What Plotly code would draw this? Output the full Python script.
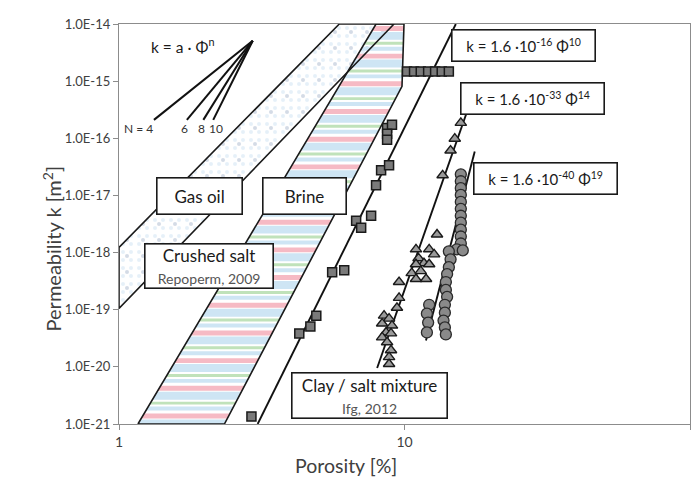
import math
import plotly.graph_objects as go

# ---------------- data ----------------
# Measured data, porosity [%] and permeability [m^2]
square_phi = [2.91, 4.28, 4.68, 4.91, 5.58, 6.15, 6.77, 7.05, 7.64, 7.95, 8.28, 8.83,
              8.69, 9.04, 8.69, 8.69, 10.2, 10.8, 11.4, 12.1, 12.8, 13.5, 14.3]
square_k = [1.35e-21, 3.85e-20, 5.08e-20, 7.87e-20, 4.54e-19, 4.92e-19, 3.61e-18, 2.73e-18,
            4.41e-18, 1.51e-17, 2.75e-17, 3.36e-17, 1.52e-16, 1.72e-16, 1.20e-16, 9.46e-17,
            1.48e-15, 1.48e-15, 1.48e-15, 1.48e-15, 1.48e-15, 1.48e-15, 1.48e-15]

triangle_phi = [15.75, 15.0, 14.5, 13.6, 13.0, 10.97, 12.2, 12.7, 11.2, 11.7, 10.97, 12.2,
                10.6, 11.4, 11.9, 10.97, 9.57, 9.57, 9.41, 8.48, 8.83, 8.35, 9.04, 8.62,
                8.35, 8.97, 8.69, 8.97, 8.83, 8.83]
triangle_k = [1.86e-16, 9.84e-17, 6.10e-17, 2.25e-17, 2.07e-18, 1.14e-18, 1.14e-18, 9.31e-19,
              7.94e-19, 6.50e-19, 6.25e-19, 6.25e-19, 4.37e-19, 4.73e-19, 3.44e-19, 3.44e-19,
              3.05e-19, 1.61e-19, 1.08e-19, 7.87e-20, 6.98e-20, 5.73e-20, 5.28e-20, 4.00e-20,
              3.28e-20, 3.85e-20, 2.69e-20, 1.95e-20, 1.48e-20, 1.12e-20]

circle_phi = [15.75] * 11 + [15.25, 16.0,
              14.3, 14.5, 14.3, 14.1, 13.96, 13.96, 14.1, 13.85, 13.85, 13.7, 13.85, 13.96,
              12.2, 11.98, 12.1, 11.98]
circle_k = [2.34e-17, 1.77e-17, 1.34e-17, 1.02e-17, 7.69e-18, 5.82e-18, 4.41e-18, 3.33e-18,
            2.52e-18, 1.91e-18, 1.44e-18, 1.14e-18, 1.09e-18,
            1.05e-18, 7.62e-19, 5.55e-19, 4.20e-19, 3.05e-19, 2.22e-19, 1.68e-19, 1.22e-19,
            8.87e-20, 6.46e-20, 4.89e-20, 3.69e-20,
            1.22e-19, 8.53e-20, 5.96e-20, 4.00e-20]

# Crushed salt ranges (Repoperm, 2009)
gasoil_phi = [1.0, 5.91, 9.19, 1.0]
gasoil_k = [1.23e-18, 1e-14, 1e-14, 1.05e-19]
brine_phi = [1.165, 7.95, 9.96, 9.80, 2.34]
brine_k = [1e-21, 1e-14, 1e-14, 8.1e-16, 1e-21]

# Fitted power laws (end points of drawn lines)
fit_exponents = [10, 14, 19]
fit_phi = [[3.06, 15.13], [8.02, 17.2], [11.89, 17.62]]
fit_k = [[1e-21, 1e-14], [9.55e-21, 5.03e-16], [2.88e-20, 5.89e-17]]
fit_labels = ["k = 1.6 ·10<sup>-16</sup> Φ<sup>10</sup>",
              "k = 1.6 ·10<sup>-33</sup> Φ<sup>14</sup>",
              "k = 1.6 ·10<sup>-40</sup> Φ<sup>19</sup>"]

# Slope legend: k = a·Φ^n
fan_exponents = [4, 6, 8, 10]
fan_labels = ["N = 4", "6", "8", "10"]
fan_apex_phi, fan_apex_k = 2.94, 5.08e-15
fan_end_k = 2.10e-16

# Axis ticks
x_tickvals = [1, 10, 100]
x_ticktext = ["1", "10", "100"]
y_tickvals = [1e-14, 1e-15, 1e-16, 1e-17, 1e-18, 1e-19, 1e-20, 1e-21]
y_ticktext = ["1.0E-14", "1.0E-15", "1.0E-16", "1.0E-17", "1.0E-18", "1.0E-19", "1.0E-20", "1.0E-21"]
x_title = "Porosity [%]"
y_title = "Permeability k [m<sup>2</sup>]"

# ---------------- styles ----------------
FONT = "Lato"
DEC_PX = 57.8          # pixels per decade on y axis (for stripe pattern)
STRIPE_PERIOD = 28     # px
STRIPES = [(0, 5, "rgb(246,186,196)"), (6, 8, "rgb(206,229,244)"),
           (16, 3, "rgb(192,226,186)"), (21, 4, "rgb(206,229,244)")]

L = math.log10


def clip_band(poly, ylo, yhi):
    def clip_half(pts, keep, yv):
        out = []
        for i in range(len(pts)):
            cur, prev = pts[i], pts[i - 1]
            def inter(p, q):
                t = (yv - p[1]) / (q[1] - p[1])
                return (p[0] + t * (q[0] - p[0]), yv)
            if keep(cur):
                if not keep(prev):
                    out.append(inter(prev, cur))
                out.append(cur)
            elif keep(prev):
                out.append(inter(prev, cur))
        return out
    pts = clip_half(poly, lambda p: p[1] >= ylo, ylo)
    if pts:
        pts = clip_half(pts, lambda p: p[1] <= yhi, yhi)
    return pts


fig = go.Figure()

# Gas oil band (dotted)
for size, col, sol in [(8, "rgb(205,225,242)", 0.2), (16, "rgb(170,184,205)", 0.05)]:
    fig.add_trace(go.Scatter(
        x=gasoil_phi + [gasoil_phi[0]], y=gasoil_k + [gasoil_k[0]],
        mode="none", fill="toself", fillcolor="rgba(0,0,0,0)",
        fillpattern=dict(shape=".", fgcolor=col, bgcolor="rgba(0,0,0,0)",
                         size=size, solidity=sol),
        hoverinfo="skip", showlegend=False))

# Brine band (horizontal stripes)
brine_poly = [(L(p), L(k)) for p, k in zip(brine_phi, brine_k)]
top = -14 - 2 / DEC_PX
stripe_xy = {}
n_periods = int(7 * DEC_PX / STRIPE_PERIOD) + 2
for i in range(n_periods):
    for off, th, col in STRIPES:
        yhi = top - (i * STRIPE_PERIOD + off) / DEC_PX
        ylo = yhi - th / DEC_PX
        pts = clip_band(brine_poly, ylo, yhi)
        if len(pts) >= 3:
            xs, ys = stripe_xy.setdefault(col, ([], []))
            xs.extend([10 ** p[0] for p in pts] + [10 ** pts[0][0], None])
            ys.extend([10 ** p[1] for p in pts] + [10 ** pts[0][1], None])
for col, (xs, ys) in stripe_xy.items():
    fig.add_trace(go.Scatter(x=xs, y=ys, mode="none", fill="toself", fillcolor=col,
                             hoverinfo="skip", showlegend=False))

# outlines
for px, ky in [(gasoil_phi, gasoil_k), (brine_phi, brine_k)]:
    fig.add_trace(go.Scatter(x=px + [px[0]], y=ky + [ky[0]], mode="lines",
                             line=dict(color="#1a1a1a", width=1.6),
                             hoverinfo="skip", showlegend=False))

# slope fan
for n in fan_exponents:
    dlog = (L(fan_apex_k) - L(fan_end_k)) / n
    fig.add_trace(go.Scatter(x=[fan_apex_phi, fan_apex_phi / 10 ** dlog],
                             y=[fan_apex_k, fan_end_k], mode="lines",
                             line=dict(color="#111", width=2),
                             hoverinfo="skip", showlegend=False))

# fitted lines
for px, ky in zip(fit_phi, fit_k):
    fig.add_trace(go.Scatter(x=px, y=ky, mode="lines",
                             line=dict(color="#111", width=1.9),
                             hoverinfo="skip", showlegend=False))

# data markers
fig.add_trace(go.Scatter(x=square_phi, y=square_k, mode="markers",
                         marker=dict(symbol="square", size=9, color="#7a7a7a",
                                     line=dict(color="#1a1a1a", width=1.5)),
                         showlegend=False))
fig.add_trace(go.Scatter(x=triangle_phi, y=triangle_k, mode="markers",
                         marker=dict(symbol="triangle-up", size=10, color="#9a9a9a",
                                     line=dict(color="#1a1a1a", width=1.4)),
                         showlegend=False))
fig.add_trace(go.Scatter(x=circle_phi, y=circle_k, mode="markers",
                         marker=dict(symbol="circle", size=11, color="#8a8a8a",
                                     line=dict(color="#2a2a2a", width=1.3)),
                         showlegend=False))

annotations = []


def box(xl, yl, text, w, h, size=17):
    annotations.append(dict(x=xl, y=yl, xref="x", yref="y", text=text, showarrow=False,
                            font=dict(family=FONT, size=size, color="#1a1a1a"),
                            bgcolor="white", bordercolor="#1a1a1a", borderwidth=1.6,
                            borderpad=0, width=w, height=h, align="center", valign="middle"))


box(0.2827, -17.002, "Gas oil", 84, 35)
box(0.6492, -17.002, "Brine", 82, 35)
box(0.3159, -18.230,
    "Crushed salt<br><span style='font-size:14px;color:#555'>Repoperm, 2009</span>", 127, 43)
box(0.8761, -20.505,
    "Clay / salt mixture<br><span style='font-size:14px;color:#555'>Ifg, 2012</span>", 154, 44)
fit_pos = [(1.4171, -14.372), (1.4485, -15.306), (1.4939, -16.699)]
for (xl, yl), txt in zip(fit_pos, fit_labels):
    box(xl, yl, txt, 142, 30, size=15)

annotations.append(dict(x=0.2234, y=-14.381, xref="x", yref="y", showarrow=False,
                        text="k = a · Φ<sup>n</sup>",
                        font=dict(family=FONT, size=15.5, color="#1a1a1a")))
fan_label_x = [0.0698, 0.2304, 0.2897, 0.3386]
for xl, txt in zip(fan_label_x, fan_labels):
    annotations.append(dict(x=xl, y=-15.834, xref="x", yref="y", showarrow=False, text=txt,
                            font=dict(family=FONT, size=12, color="#333")))

# axis titles (offset from the plot centre as in the reference)
annotations.append(dict(x=0.397, y=-0.104, xref="paper", yref="paper", showarrow=False,
                        text=x_title, xanchor="center", yanchor="middle",
                        font=dict(family=FONT, size=19.5, color="#404040")))
annotations.append(dict(x=-0.118, y=0.438, xref="paper", yref="paper", showarrow=False,
                        text=y_title, textangle=-90, xanchor="center", yanchor="middle",
                        font=dict(family=FONT, size=20, color="#404040")))

# The page body has an 8px margin: size the figure so it exactly fills the 699x479 window.
fig.update_layout(
    width=691, height=471,
    margin=dict(l=111, r=8, t=12, b=55),
    paper_bgcolor="white", plot_bgcolor="white",
    font=dict(family=FONT, color="#404040"),
    annotations=annotations,
    xaxis=dict(type="log", range=[0, 2], tickvals=x_tickvals, ticktext=x_ticktext,
               ticks="outside", ticklen=5, tickcolor="#8c8c8c", showgrid=False,
               showline=True, linecolor="#8c8c8c", linewidth=1.2, mirror=True, zeroline=False,
               tickfont=dict(family=FONT, size=14, color="#404040")),
    yaxis=dict(type="log", range=[-21, -14], tickvals=y_tickvals, ticktext=y_ticktext,
               ticks="outside", ticklen=5, tickcolor="#8c8c8c", showgrid=False,
               showline=True, linecolor="#8c8c8c", linewidth=1.2, mirror=True, zeroline=False,
               tickfont=dict(family=FONT, size=13, color="#404040")),
)

fig.write_html("out.html")
